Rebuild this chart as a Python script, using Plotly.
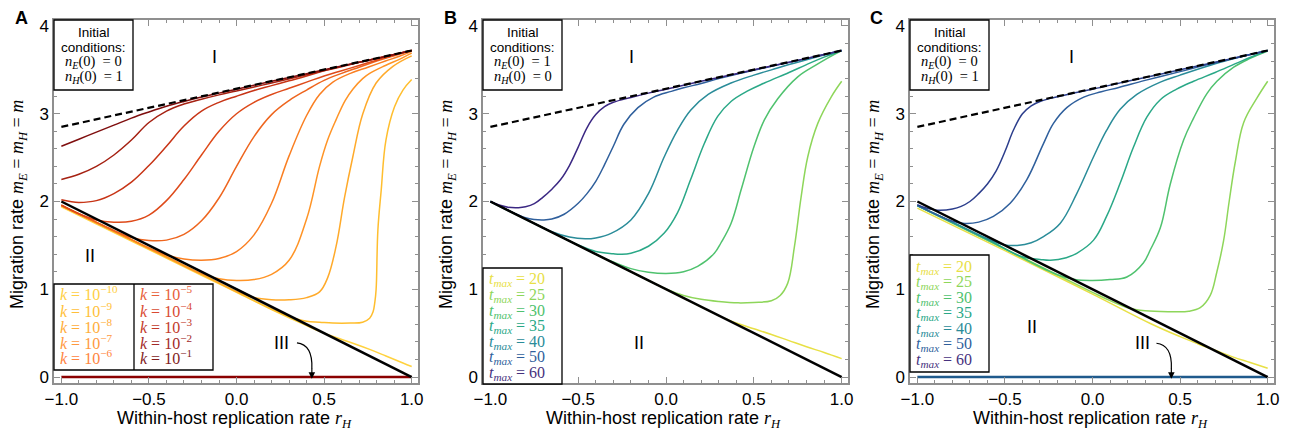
import plotly.graph_objects as go

# The browser page has an 8px body margin: build the figure 8px smaller and shift everything.
OFF = 8
W, H = 1295 - 2 * OFF, 441 - 2 * OFF

# ---------------- shared axis data ----------------
x_tick_vals = [-1.0, -0.5, 0.0, 0.5, 1.0]
x_tick_text = ["\u22121.0", "\u22120.5", "0.0", "0.5", "1.0"]
y_tick_vals = [0, 1, 2, 3, 4]
y_tick_text = ["0", "1", "2", "3", "4"]

# boundary lines (identical in each panel)
bound_x = [-1.0, 1.0]
upper_bound_y = [2.85, 3.72]     # dashed: boundary of region I
lower_bound_y = [2.0, 0.0]       # solid: boundary of region II
region3_y = [0.0, 0.0]           # region III (extinction) line

# ---------------- Panel A : k values ----------------
A_labels = ["10<sup>\u221210</sup>", "10<sup>\u22129</sup>", "10<sup>\u22128</sup>", "10<sup>\u22127</sup>",
            "10<sup>\u22126</sup>", "10<sup>\u22125</sup>", "10<sup>\u22124</sup>", "10<sup>\u22123</sup>",
            "10<sup>\u22122</sup>", "10<sup>\u22121</sup>"]
A_colors = ["#FFD23F", "#FFBE2E", "#FFAA2A", "#FF9426", "#FA7F22",
            "#EE651E", "#DE4A1A", "#C73416", "#A52112", "#7F0E0E"]
A_legend_colors = ["#FFCF45", "#FFBF3A", "#FFAD3A", "#FF983E", "#FF8440",
                   "#E8603A", "#D94A32", "#C23A2A", "#A32A28", "#821C1C"]

A_k10_x = [-1, -0.6, -0.2, 0, 0.2, 0.4, 0.474, 0.568, 0.664, 0.76, 0.853, 0.95, 1.0]
A_k10_y = [1.94, 1.55, 1.16, 0.965, 0.77, 0.585, 0.52, 0.45, 0.385, 0.315, 0.24, 0.16, 0.12]
A_k9_x = [-1, -0.6, -0.2, 0.1, 0.2, 0.3, 0.4, 0.474, 0.55, 0.65, 0.72, 0.76, 0.779, 0.79, 0.797,
          0.807, 0.826, 0.853, 0.902, 0.95, 1.0]
A_k9_y = [1.95, 1.56, 1.17, 0.87, 0.775, 0.69, 0.635, 0.625, 0.615, 0.615, 0.625, 0.67, 0.74, 0.86, 1.0,
          1.675, 2.13, 2.70, 3.08, 3.27, 3.39]
A_k8_x = [-1, -0.6, -0.2, 0, 0.1, 0.2, 0.3, 0.4, 0.474, 0.52, 0.568, 0.617, 0.664, 0.721, 0.797, 0.893, 1.0]
A_k8_y = [1.955, 1.565, 1.175, 0.975, 0.905, 0.88, 0.88, 0.905, 0.97, 1.13, 1.485, 2.05, 2.51, 3.0, 3.35, 3.54, 3.66]
A_k7_x = [-1, -0.8, -0.6, -0.4, -0.2, -0.1, 0, 0.1, 0.2, 0.3, 0.4, 0.474, 0.52, 0.568, 0.62, 0.664, 0.72,
          0.76, 0.85, 0.93, 1.0]
A_k7_y = [1.955, 1.76, 1.565, 1.37, 1.175, 1.12, 1.10, 1.11, 1.17, 1.33, 1.80, 2.40, 2.70, 2.93, 3.15, 3.28,
          3.40, 3.46, 3.55, 3.62, 3.69]
A_k6_x = [-1, -0.8, -0.6, -0.5, -0.4, -0.3, -0.2, -0.1, 0, 0.1, 0.2, 0.3, 0.4, 0.474, 0.55, 0.65, 0.75,
          0.85, 0.93, 1.0]
A_k6_y = [1.955, 1.76, 1.565, 1.47, 1.39, 1.345, 1.33, 1.35, 1.43, 1.62, 1.98, 2.52, 2.98, 3.22, 3.36, 3.46,
          3.53, 3.60, 3.655, 3.71]
A_k5_x = [-1, -0.9, -0.8, -0.7, -0.6, -0.5, -0.4, -0.3, -0.2, -0.1, 0, 0.1, 0.2, 0.3, 0.4, 0.5, 0.6, 0.7,
          0.8, 0.9, 1.0]
A_k5_y = [1.955, 1.86, 1.765, 1.67, 1.59, 1.555, 1.56, 1.625, 1.78, 2.04, 2.40, 2.74, 2.99, 3.15, 3.27, 3.38,
          3.46, 3.53, 3.60, 3.66, 3.72]
A_k4_x = [-1, -0.9, -0.8, -0.7, -0.6, -0.5, -0.4, -0.3, -0.2, -0.1, 0, 0.1, 0.2, 0.3, 0.4, 0.5, 0.6, 0.7,
          0.8, 0.9, 1.0]
A_k4_y = [1.96, 1.86, 1.79, 1.765, 1.775, 1.845, 2.01, 2.25, 2.53, 2.80, 3.00, 3.13, 3.22, 3.29, 3.36, 3.43,
          3.49, 3.55, 3.61, 3.67, 3.72]
A_k3_x = [-1, -0.95, -0.9, -0.8, -0.7, -0.6, -0.5, -0.4, -0.3, -0.2, -0.1, 0, 0.1, 0.2, 0.3, 0.4, 0.5,
          0.6, 0.7, 0.8, 0.9, 1.0]
A_k3_y = [2.02, 2.0, 1.99, 2.01, 2.09, 2.22, 2.41, 2.63, 2.86, 3.03, 3.13, 3.20, 3.265, 3.32, 3.375, 3.43,
          3.49, 3.535, 3.585, 3.63, 3.675, 3.72]
A_k2_x = [-1, -0.9, -0.8, -0.7, -0.6, -0.5, -0.4, -0.3, -0.2, -0.1, 0, 0.1, 0.2, 0.4, 0.6, 0.8, 1.0]
A_k2_y = [2.25, 2.31, 2.40, 2.53, 2.70, 2.90, 3.03, 3.11, 3.165, 3.215, 3.26, 3.305, 3.35, 3.445, 3.54, 3.63, 3.72]
A_k1_x = [-1, -0.9, -0.8, -0.7, -0.6, -0.5, -0.4, -0.3, -0.2, -0.1, 0.0, 0.2, 0.4, 0.6, 0.8, 1.0]
A_k1_y = [2.63, 2.71, 2.79, 2.87, 2.95, 3.02, 3.085, 3.14, 3.19, 3.235, 3.28, 3.37, 3.455, 3.545, 3.63, 3.72]

A_curves = [(A_k10_x, A_k10_y), (A_k9_x, A_k9_y), (A_k8_x, A_k8_y), (A_k7_x, A_k7_y), (A_k6_x, A_k6_y),
            (A_k5_x, A_k5_y), (A_k4_x, A_k4_y), (A_k3_x, A_k3_y), (A_k2_x, A_k2_y), (A_k1_x, A_k1_y)]

# ---------------- Panels B, C : t_max values ----------------
t_max_values = [20, 25, 30, 35, 40, 50, 60]
B_colors = ["#E8E045", "#8ED65A", "#4FC26E", "#2AA887", "#2A8C99", "#2F5F9C", "#3B2883"]
C_colors = ["#E8E045", "#8ED65A", "#4FC26E", "#2AA887", "#2A8C99", "#2F5F9C", "#2C3E8C"]
legend_colors = ["#E8E045", "#8ED65A", "#4FC26E", "#2AA887", "#2A8C99", "#2F5F9C", "#46327E"]

B_t20_x = [-1, 0, 0.3, 0.35, 0.4, 0.5, 0.6, 0.7, 0.8, 0.9, 1.0]
B_t20_y = [2.0, 1.0, 0.70, 0.655, 0.615, 0.55, 0.485, 0.415, 0.345, 0.28, 0.21]
B_t25_x = [-1, -0.5, -0.1, 0, 0.1, 0.2, 0.3, 0.41, 0.5, 0.6, 0.65, 0.693, 0.731, 0.769, 0.807, 0.864, 0.94, 1.0]
B_t25_y = [2.0, 1.5, 1.1, 1.005, 0.93, 0.885, 0.86, 0.845, 0.85, 0.87, 0.93, 1.07, 1.485, 2.05, 2.51, 2.89, 3.19, 3.37]
B_t30_x = [-1, -0.6, -0.4, -0.3, -0.2, -0.1, 0, 0.1, 0.18, 0.275, 0.313, 0.37, 0.43, 0.5, 0.56, 0.636,
           0.75, 0.85, 0.93, 1.0]
B_t30_y = [2.0, 1.60, 1.40, 1.31, 1.235, 1.195, 1.18, 1.20, 1.26, 1.41, 1.53, 1.75, 2.15, 2.62, 2.93, 3.17,
           3.42, 3.55, 3.645, 3.72]
B_t35_x = [-1, -0.6, -0.5, -0.4, -0.3, -0.26, -0.2, -0.1, -0.01, 0.065, 0.14, 0.218, 0.294, 0.37, 0.465,
           0.56, 0.7, 0.8, 0.9, 1.0]
B_t35_y = [2.0, 1.60, 1.505, 1.43, 1.405, 1.40, 1.41, 1.49, 1.64, 1.87, 2.25, 2.66, 2.97, 3.14, 3.26, 3.35,
           3.47, 3.56, 3.645, 3.72]
B_t40_x = [-1, -0.8, -0.65, -0.55, -0.46, -0.4, -0.31, -0.2, -0.1, -0.01, 0.065, 0.14, 0.24, 0.37, 0.5,
           0.6, 0.7, 0.8, 0.9, 1.0]
B_t40_y = [2.0, 1.80, 1.655, 1.595, 1.575, 1.585, 1.64, 1.79, 2.09, 2.51, 2.81, 3.04, 3.22, 3.35, 3.44,
           3.50, 3.56, 3.615, 3.67, 3.72]
B_t50_x = [-1, -0.9, -0.8, -0.75, -0.7, -0.65, -0.58, -0.5, -0.45, -0.4, -0.35, -0.3, -0.24, -0.16, -0.07,
           0.03, 0.1, 0.2, 0.3, 0.4, 0.6, 0.8, 1.0]
B_t50_y = [2.0, 1.90, 1.815, 1.795, 1.79, 1.80, 1.855, 1.98, 2.09, 2.23, 2.42, 2.63, 2.88, 3.07, 3.19,
           3.255, 3.295, 3.345, 3.40, 3.45, 3.54, 3.63, 3.72]
B_t60_x = [-1, -0.95, -0.9, -0.84, -0.8, -0.75, -0.7, -0.65, -0.6, -0.55, -0.5, -0.45, -0.4, -0.35, -0.3,
           -0.2, -0.1, 0, 0.2, 0.4, 0.6, 0.8, 1.0]
B_t60_y = [2.0, 1.96, 1.935, 1.93, 1.94, 1.975, 2.05, 2.14, 2.25, 2.41, 2.62, 2.84, 2.99, 3.08, 3.13,
           3.185, 3.235, 3.28, 3.37, 3.455, 3.545, 3.63, 3.72]
B_curves = [(B_t20_x, B_t20_y), (B_t25_x, B_t25_y), (B_t30_x, B_t30_y), (B_t35_x, B_t35_y),
            (B_t40_x, B_t40_y), (B_t50_x, B_t50_y), (B_t60_x, B_t60_y)]

C_t20_x = [-1, -0.5, 0, 0.33, 0.5, 0.6, 0.7, 0.8, 0.9, 1.0]
C_t20_y = [1.925, 1.44, 0.945, 0.61, 0.46, 0.38, 0.305, 0.23, 0.165, 0.10]
C_t25_x = [-1, -0.5, 0, 0.1, 0.2, 0.3, 0.444, 0.55, 0.615, 0.672, 0.71, 0.748, 0.78, 0.815, 0.863, 0.939, 1.0]
C_t25_y = [1.955, 1.46, 0.965, 0.87, 0.79, 0.755, 0.745, 0.75, 0.79, 0.93, 1.2, 1.55, 2.0, 2.45, 2.9, 3.18, 3.37]
C_t30_x = [-1, -0.5, -0.2, -0.1, 0, 0.1, 0.196, 0.29, 0.33, 0.387, 0.444, 0.52, 0.577, 0.653, 0.71, 0.806,
           0.9, 1.0]
C_t30_y = [1.95, 1.46, 1.165, 1.11, 1.10, 1.11, 1.14, 1.30, 1.45, 1.70, 2.20, 2.70, 2.95, 3.23, 3.37, 3.53,
           3.63, 3.715]
C_t35_x = [-1, -0.6, -0.4, -0.3, -0.24, -0.15, -0.09, 0.006, 0.08, 0.158, 0.234, 0.31, 0.387, 0.48, 0.577,
           0.7, 0.85, 1.0]
C_t35_y = [1.955, 1.57, 1.37, 1.34, 1.33, 1.36, 1.41, 1.56, 1.83, 2.21, 2.62, 2.96, 3.16, 3.28, 3.37, 3.47,
           3.60, 3.72]
C_t40_x = [-1, -0.8, -0.6, -0.5, -0.43, -0.35, -0.28, -0.185, -0.09, 0.006, 0.08, 0.158, 0.253, 0.387, 0.5,
           0.7, 0.85, 1.0]
C_t40_y = [1.955, 1.765, 1.575, 1.505, 1.50, 1.53, 1.60, 1.75, 2.09, 2.51, 2.81, 3.05, 3.22, 3.36, 3.44,
           3.57, 3.65, 3.72]
C_t50_x = [-1, -0.9, -0.8, -0.73, -0.65, -0.566, -0.47, -0.375, -0.28, -0.223, -0.147, -0.05, 0.05, 0.15,
           0.3, 0.5, 0.7, 1.0]
C_t50_y = [1.955, 1.86, 1.775, 1.75, 1.765, 1.83, 1.98, 2.25, 2.66, 2.89, 3.07, 3.19, 3.25, 3.30, 3.38,
           3.48, 3.58, 3.72]
C_t60_x = [-1, -0.95, -0.9, -0.87, -0.8, -0.75, -0.7, -0.65, -0.6, -0.55, -0.5, -0.45, -0.4, -0.35, -0.3,
           -0.24, -0.1, 0, 0.2, 0.4, 0.6, 0.8, 1.0]
C_t60_y = [1.965, 1.925, 1.905, 1.90, 1.915, 1.945, 2.0, 2.09, 2.2, 2.35, 2.57, 2.82, 3.0, 3.09, 3.14,
           3.175, 3.24, 3.28, 3.37, 3.455, 3.545, 3.63, 3.72]
C_curves = [(C_t20_x, C_t20_y), (C_t25_x, C_t25_y), (C_t30_x, C_t30_y), (C_t35_x, C_t35_y),
            (C_t40_x, C_t40_y), (C_t50_x, C_t50_y), (C_t60_x, C_t60_y)]

# ---------------- figure ----------------
SANS = "Liberation Sans, Arial, sans-serif"
SERIF = "Liberation Serif, Times New Roman, serif"

def px(x):
    return (x - OFF) / W

def py(y):
    return 1 - (y - OFF) / H

panels = [
    dict(xa="x", ya="y", xdom=(54, 418), curves=A_curves, colors=A_colors, iii="#8B0000"),
    dict(xa="x2", ya="y2", xdom=(483, 848), curves=B_curves, colors=B_colors, iii=None),
    dict(xa="x3", ya="y3", xdom=(910, 1274), curves=C_curves, colors=C_colors, iii="#1F5A8C"),
]

fig = go.Figure()
for p in panels:
    for (cx, cy), col in zip(p["curves"], p["colors"]):
        fig.add_trace(go.Scatter(x=cx, y=cy, mode="lines", xaxis=p["xa"], yaxis=p["ya"],
                                 line=dict(color=col, width=1.5, shape="spline", smoothing=1.1),
                                 showlegend=False, hoverinfo="skip"))
    if p["iii"]:
        fig.add_trace(go.Scatter(x=bound_x, y=region3_y, mode="lines", xaxis=p["xa"], yaxis=p["ya"],
                                 line=dict(color=p["iii"], width=2.5), showlegend=False, hoverinfo="skip"))
    fig.add_trace(go.Scatter(x=bound_x, y=lower_bound_y, mode="lines", xaxis=p["xa"], yaxis=p["ya"],
                             line=dict(color="black", width=2.5), showlegend=False, hoverinfo="skip"))
    fig.add_trace(go.Scatter(x=bound_x, y=upper_bound_y, mode="lines", xaxis=p["xa"], yaxis=p["ya"],
                             line=dict(color="black", width=2.2, dash="7px,4px"),
                             showlegend=False, hoverinfo="skip"))

ydom = (py(383), py(20))
layout = dict(width=W, height=H, margin=dict(l=0, r=0, t=0, b=0),
              paper_bgcolor="white", plot_bgcolor="white", showlegend=False)

frame = "#8f8f8f"
for i, p in enumerate(panels):
    sfx = "" if i == 0 else str(i + 1)
    layout["xaxis" + sfx] = dict(
        domain=[px(p["xdom"][0]), px(p["xdom"][1])], range=[-1.042, 1.036], anchor="y" + sfx,
        tickmode="array", tickvals=x_tick_vals, ticktext=x_tick_text, automargin=False,
        ticks="inside", ticklen=6, tickcolor=frame, showline=True, linecolor=frame, linewidth=1.5,
        mirror="ticks", showgrid=False, zeroline=False,
        minor=dict(ticks="inside", tickmode="linear", tick0=0, dtick=0.1, ticklen=3, tickcolor=frame,
                   showgrid=False),
        tickfont=dict(family=SANS, size=17, color="black"))
    layout["yaxis" + sfx] = dict(
        domain=list(ydom), range=[-0.068, 4.068], anchor="x" + sfx, automargin=False,
        tickmode="array", tickvals=y_tick_vals, ticktext=y_tick_text,
        ticks="inside", ticklen=6, tickcolor=frame, showline=True, linecolor=frame, linewidth=1.5,
        mirror="ticks", showgrid=False, zeroline=False,
        minor=dict(ticks="inside", tickmode="linear", tick0=0, dtick=0.2, ticklen=3, tickcolor=frame,
                   showgrid=False),
        tickfont=dict(family=SANS, size=17, color="black"))

ann = []
shapes = []

def text(x, y, s, size=12, family=SANS, color="black", xanchor="center", angle=0, bold=False):
    if bold:
        s = "<b>" + s + "</b>"
    ann.append(dict(x=px(x), y=py(y), xref="paper", yref="paper", text=s, showarrow=False,
                    font=dict(family=family, size=size, color=color), xanchor=xanchor,
                    yanchor="middle", textangle=angle, borderpad=0))

def box(x0, y0, x1, y1):
    shapes.append(dict(type="rect", xref="paper", yref="paper", x0=px(x0), y0=py(y1), x1=px(x1), y1=py(y0),
                       line=dict(color="black", width=1.3), fillcolor="white", layer="above"))

math_y = ('Migration rate <span style="font-family:Liberation Serif"><i>m</i><sub><i>E</i></sub> = '
          '<i>m</i><sub><i>H</i></sub> = <i>m</i></span>')
math_x = 'Within-host replication rate <span style="font-family:Liberation Serif"><i>r</i><sub><i>H</i></sub></span>'

ic_sets = [("0", "1"), ("1", "0"), ("0", "1")]
for i, p in enumerate(panels):
    x0, x1 = p["xdom"]
    text(x0 - 33, 18, "ABC"[i], size=18, bold=True)
    text(x0 - 36, 205, math_y, size=18, angle=-90)
    text((x0 + x1) / 2 - 2, 419, math_x, size=18)
    box(x0, 20, x0 + 79, 90)
    cx = x0 + 39.5
    text(cx, 32, "Initial", size=13.5)
    text(cx, 47, "conditions:", size=13.5)
    nE, nH = ic_sets[i]
    text(cx, 62, "<i>n</i><sub><i>E</i></sub>(0)  = " + nE, size=14.5, family=SERIF)
    text(cx, 77, "<i>n</i><sub><i>H</i></sub>(0)  = " + nH, size=14.5, family=SERIF)

# Panel A legend (two columns of k values)
box(54, 284, 213, 370)
shapes.append(dict(type="line", xref="paper", yref="paper", x0=px(134), x1=px(134), y0=py(284), y1=py(370),
                   line=dict(color="black", width=1.3), layer="above"))
a_rows = [293, 309.5, 325.5, 341.5, 357]
for j in range(5):
    text(59, a_rows[j], "<i>k</i> = " + A_labels[j], size=16, family=SERIF,
         color=A_legend_colors[j], xanchor="left")
    text(139, a_rows[j], "<i>k</i> = " + A_labels[5 + j], size=16, family=SERIF,
         color=A_legend_colors[5 + j], xanchor="left")

# Panel B / C legends
b_rows = [279.5, 295.5, 311, 326.5, 342, 357.5, 373]
box(483, 268, 562, 384)
for j, t in enumerate(t_max_values):
    text(488, b_rows[j], "<i>t</i><sub><i>max</i></sub> = %d" % t, size=16, family=SERIF,
         color=legend_colors[j], xanchor="left")
c_rows = [267, 282.5, 298, 313.5, 329, 344.5, 360]
box(910, 255, 989, 372)
for j, t in enumerate(t_max_values):
    text(915, c_rows[j], "<i>t</i><sub><i>max</i></sub> = %d" % t, size=16, family=SERIF,
         color=legend_colors[j], xanchor="left")

# region labels
for (x, y, s) in [(214, 57, "I"), (90, 256, "II"), (281, 343, "III"),
                  (631, 57, "I"), (639, 343, "II"),
                  (1071, 57, "I"), (1032, 327, "II"), (1142, 343, "III")]:
    text(x, y, s, size=18)

# curved arrows pointing to region III line
for xa, ya, (sx, sy), (cx_, cy_), (ex, ey) in [
        ("x", "y", (0.345, 0.39), (0.435, 0.37), (0.43, 0.10)),
        ("x3", "y3", (0.365, 0.385), (0.455, 0.365), (0.45, 0.10))]:
    shapes.append(dict(type="path", xref=xa, yref=ya,
                       path="M %f,%f Q %f,%f %f,%f" % (sx, sy, cx_, cy_, ex, ey),
                       line=dict(color="black", width=1.2)))
    ann.append(dict(x=ex, y=-0.02, xref=xa, yref=ya, ax=ex, ay=ey + 0.02, axref=xa, ayref=ya,
                    showarrow=True, arrowhead=2, arrowsize=1.1, arrowwidth=1.2, arrowcolor="black", text=""))

layout["annotations"] = ann
layout["shapes"] = shapes
fig.update_layout(**layout)
fig.write_html("out.html")
